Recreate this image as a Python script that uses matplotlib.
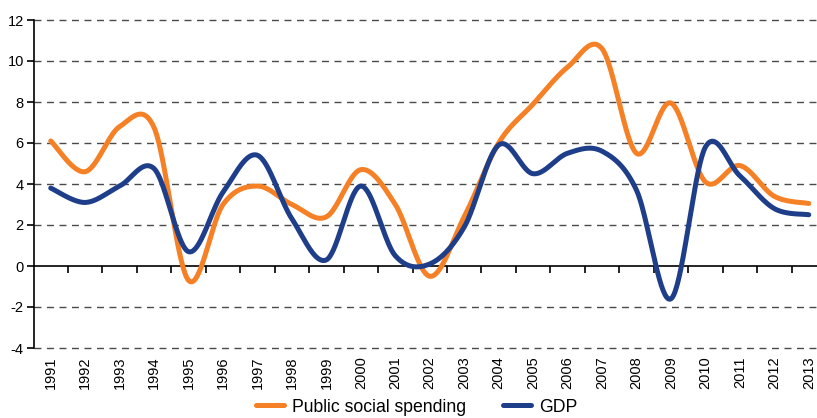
import numpy as np
import matplotlib
matplotlib.use("Agg")
import matplotlib.pyplot as plt

plt.rcParams['font.family'] = ['Liberation Sans', 'DejaVu Sans']
plt.rcParams['axes.unicode_minus'] = False

years = [str(y) for y in range(1991, 2014)]
social = [6.1, 4.6, 6.8, 6.75, -0.7, 3.0, 3.9, 3.0, 2.4, 4.7, 3.0, -0.5,
          2.4, 6.0, 7.9, 9.7, 10.6, 5.5, 7.95, 4.1, 4.9, 3.4, 3.05]
gdp = [3.8, 3.1, 3.9, 4.75, 0.7, 3.6, 5.4, 2.3, 0.3, 3.9, 0.5, 0.1,
       1.9, 5.9, 4.5, 5.5, 5.6, 3.7, -1.6, 5.8, 4.4, 2.8, 2.5]


def smooth(vals, n=40):
    # excel-like smoothed line (bezier, catmull-rom control points)
    p = np.column_stack([np.arange(len(vals)), vals]).astype(float)
    out = []
    for i in range(len(p) - 1):
        p0 = p[i - 1] if i > 0 else p[i]
        p3 = p[i + 2] if i + 2 < len(p) else p[i + 1]
        c1 = p[i] + (p[i + 1] - p0) / 6
        c2 = p[i + 1] - (p3 - p[i]) / 6
        t = np.linspace(0, 1, n)[:, None]
        seg = ((1 - t) ** 3 * p[i] + 3 * (1 - t) ** 2 * t * c1
               + 3 * (1 - t) * t ** 2 * c2 + t ** 3 * p[i + 1])
        out.append(seg if i == 0 else seg[1:])
    out = np.vstack(out)
    return out[:, 0], out[:, 1]


fig = plt.figure(figsize=(8.17, 4.18), dpi=100)
W, H = 817, 418
left, right = 33.5, 826
top, bottom = 20, 348
ax = fig.add_axes([left / W, 1 - bottom / H, (right - left) / W, (bottom - top) / H])

orange = '#F58025'
blue = '#1E3E8A'
x, y = smooth(social)
ax.plot(x, y, color=orange, lw=3.6, solid_capstyle='round', label='Public social spending', zorder=3)
x, y = smooth(gdp)
ax.plot(x, y, color=blue, lw=3.6, solid_capstyle='round', label='GDP', zorder=4)

ax.set_xlim(-0.5, len(years) - 0.5)
ax.set_ylim(-4, 12)
ax.set_yticks(range(-4, 13, 2))
for v in range(-4, 13, 2):
    if v != 0:
        ax.axhline(v, color='#4a4a4a', lw=1, ls=(0, (5, 4)), zorder=1, clip_on=False)

for s in ['top', 'right']:
    ax.spines[s].set_visible(False)
ax.spines['left'].set_linewidth(1.2)
ax.spines['bottom'].set_position(('data', 0))
ax.spines['bottom'].set_linewidth(1.2)
ax.set_xticks(np.arange(0.5, len(years) - 0.5, 1))
ax.set_xticklabels([])
ax.tick_params(axis='x', direction='out', length=5, width=1.2)
ax.tick_params(axis='y', direction='out', length=5, width=1.2, labelsize=10.5, pad=2)

sec = ax.secondary_xaxis(0)
sec.set_xticks(range(len(years)))
sec.set_xticklabels(years, rotation=90, fontsize=10.5)
sec.tick_params(length=0, pad=6)
sec.spines['bottom'].set_visible(False)

fig.legend(loc='lower left', bbox_to_anchor=(240 / W, -0.032), ncol=2, frameon=False,
           fontsize=12.7, handlelength=1.6, columnspacing=2.1, handletextpad=0.45)

fig.savefig('out.png', dpi=100)
